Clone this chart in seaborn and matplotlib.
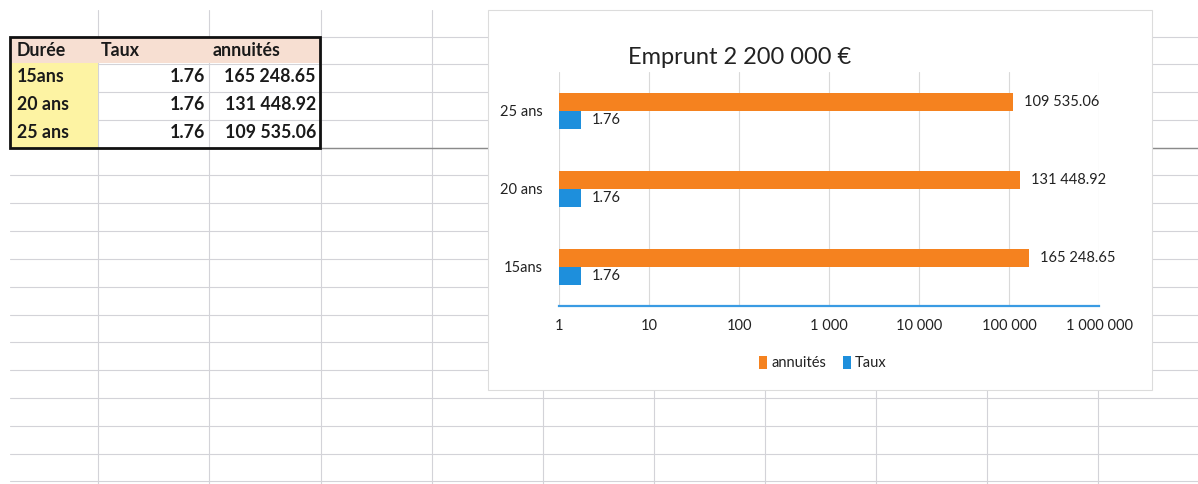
import matplotlib
matplotlib.use("Agg")
import matplotlib.pyplot as plt
from matplotlib.lines import Line2D
from matplotlib.patches import Rectangle
import seaborn as sns
import pandas as pd

# ---------------- data ----------------
durees = ["15ans", "20 ans", "25 ans"]
taux = [1.76, 1.76, 1.76]
annuites = [165248.65, 131448.92, 109535.06]
series = ["annuités", "Taux"]
header = ["Durée", "Taux", "annuités"]
title = "Emprunt 2 200 000 €"
x_ticks = [1, 10, 100, 1000, 10000, 100000, 1000000]
x_tick_labels = ["1", "10", "100", "1 000", "10 000", "100 000", "1 000 000"]

ORANGE = "#f5821f"
BLUE = "#1e8fdc"
FONT = ["Lato", "DejaVu Sans"]

sns.set_theme(style="white")
plt.rcParams["font.family"] = FONT

W, H = 1198, 484
fig = plt.figure(figsize=(W / 100, H / 100), dpi=100)
fig.patch.set_facecolor("white")


def fx(x):
    return x / W


def fy(y):
    return 1 - y / H


def fmt(v):
    return f"{v:,.2f}".replace(",", " ")


# ---------------- spreadsheet grid ----------------
grid_c = "#d3d3d8"
row_ys = [36.5 + 27.8 * k for k in range(17)]
col_xs = [98, 209, 321, 432, 543, 654, 765, 876, 987, 1098]
for y in row_ys:
    fig.add_artist(Line2D([fx(10), fx(W)], [fy(y), fy(y)], color=grid_c, lw=0.8, zorder=-5))
for x in col_xs:
    fig.add_artist(Line2D([fx(x), fx(x)], [fy(10), fy(H)], color=grid_c, lw=0.8, zorder=-5))
fig.add_artist(Line2D([fx(320), fx(W)], [fy(147.7), fy(147.7)], color="#8a8a8a", lw=1.0, zorder=-4.5))

# ---------------- table ----------------
tx0, tx1, ty0, ty1 = 10, 320, 37, 148
fig.add_artist(Rectangle((fx(tx0), fy(63)), fx(tx1) - fx(tx0), fy(ty0) - fy(63),
                         facecolor="#f7dfd2", edgecolor="none", zorder=-4))
fig.add_artist(Rectangle((fx(tx0), fy(ty1)), fx(98) - fx(tx0), fy(63) - fy(ty1),
                         facecolor="#fdf3a3", edgecolor="none", zorder=-4))
fig.add_artist(Rectangle((fx(tx0), fy(ty1)), fx(tx1) - fx(tx0), fy(ty0) - fy(ty1),
                         facecolor="none", edgecolor="#111111", lw=2.0, zorder=-3))

tfs = 12.8
hdr_x = [17, 101, 213]
for h, x in zip(header, hdr_x):
    fig.text(fx(x), fy(50), h, ha="left", va="center", fontsize=tfs, fontweight="bold", color="#1a1a1a")
row_y = [77, 105, 133]
for d, t, a, y in zip(durees, taux, annuites, row_y):
    fig.text(fx(17), fy(y), d, ha="left", va="center", fontsize=tfs, fontweight="bold", color="#1a1a1a")
    fig.text(fx(205), fy(y), fmt(t), ha="right", va="center", fontsize=tfs, fontweight="bold", color="#1a1a1a")
    fig.text(fx(316), fy(y), fmt(a), ha="right", va="center", fontsize=tfs, fontweight="bold", color="#1a1a1a")

# ---------------- chart box ----------------
fig.add_artist(Rectangle((fx(488), fy(390)), fx(1152) - fx(488), fy(10) - fy(390),
                         facecolor="white", edgecolor="#dcdcdc", lw=0.8, zorder=-2))

fig.text(fx(740), fy(57), title, ha="center", va="center", fontsize=17, color="#222222")

# ---------------- bar chart ----------------
ax = fig.add_axes([fx(559), fy(306), fx(1099) - fx(559), fy(72) - fy(306)])
ax.set_facecolor("none")

order = durees[::-1]
df = pd.DataFrame({
    "Durée": durees * 2,
    "Série": [series[0]] * 3 + [series[1]] * 3,
    "Valeur": annuites + taux,
})
sns.barplot(data=df, y="Durée", x="Valeur", hue="Série", order=order, hue_order=series,
            palette=[ORANGE, BLUE], orient="h", width=0.46, saturation=1,
            errorbar=None, linewidth=0, ax=ax)
ax.set_xscale("log", nonpositive="clip")

ax.set_xlim(1, 1e6)
ax.set_xticks(x_ticks)
ax.set_xticklabels(x_tick_labels)
ax.minorticks_off()
ax.xaxis.grid(True, color="#d9d9d9", lw=0.8)
ax.yaxis.grid(False)
ax.set_axisbelow(True)
for s in ["top", "right", "left"]:
    ax.spines[s].set_visible(False)
ax.spines["bottom"].set_color("#3a9be3")
ax.spines["bottom"].set_linewidth(1.6)
ax.tick_params(axis="x", length=0, pad=9.5, labelsize=10.5, labelcolor="#222222")
ax.tick_params(axis="y", length=0, pad=11.5, labelsize=10.5, labelcolor="#222222")
ax.set_xlabel("")
ax.set_ylabel("")

value_map = {series[0]: annuites, series[1]: taux}
for cont, s in zip(ax.containers, series):
    labs = [fmt(value_map[s][durees.index(c)]) for c in order]
    ax.bar_label(cont, labels=labs, padding=8, fontsize=10.5, color="#222222")

handles, labels = ax.get_legend_handles_labels()
if ax.legend_ is not None:
    ax.legend_.remove()
fig.legend(handles, labels, loc="center", bbox_to_anchor=(fx(823), fy(363)), ncol=2,
           frameon=False, fontsize=10.5, handlelength=0.55, handleheight=1.0,
           handletextpad=0.3, columnspacing=1.1, labelcolor="#222222")

fig.savefig("out.png", dpi=100, facecolor="white")
